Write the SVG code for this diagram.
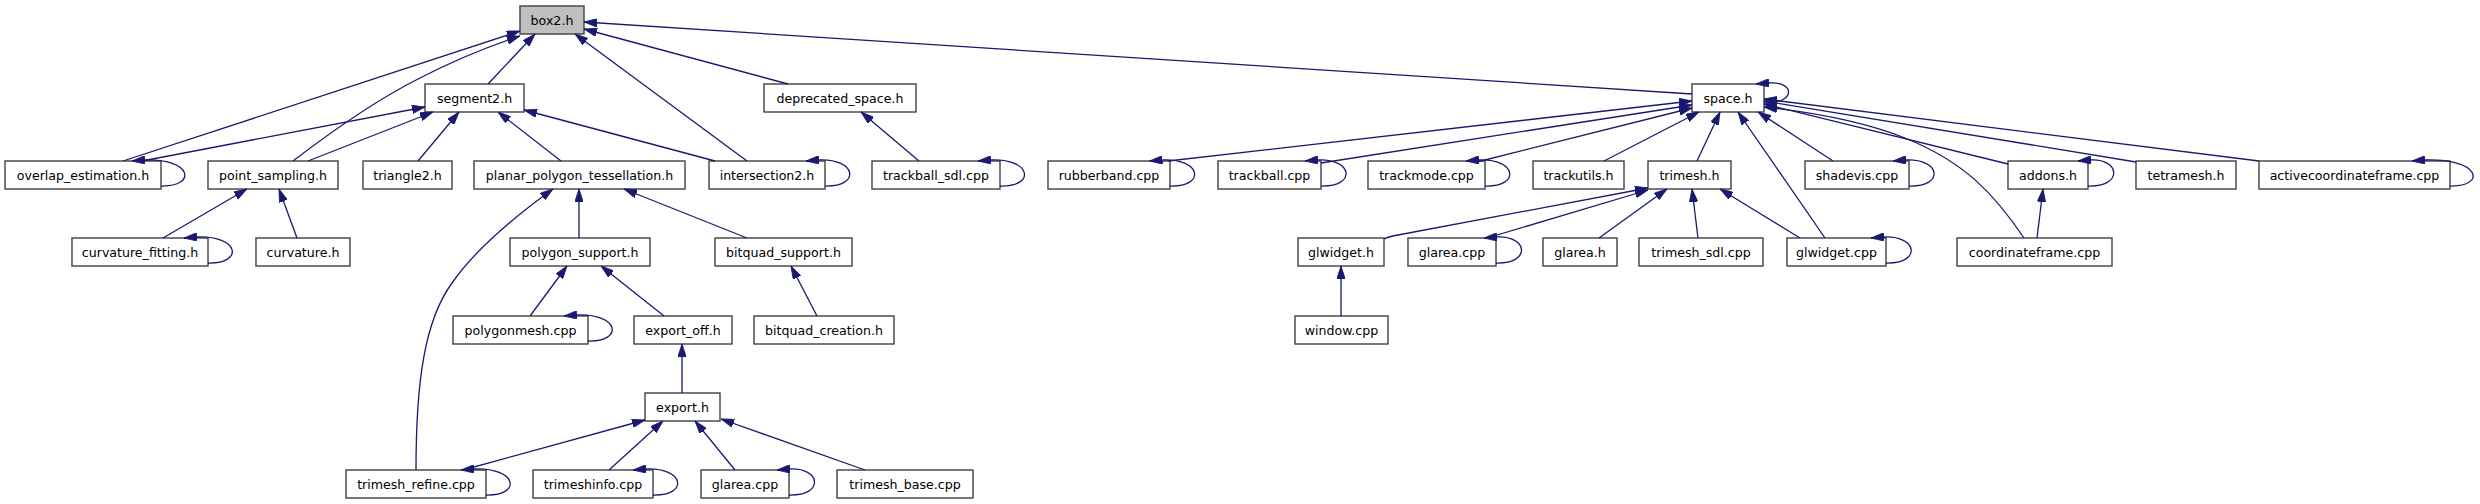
<svg xmlns="http://www.w3.org/2000/svg" width="2480" height="504" viewBox="0 0 2480 504">
<style>
.n rect{fill:#ffffff;stroke:#404040;stroke-width:1.4}
.n rect.hl{fill:#bfbfbf}
.n text{font-family:"DejaVu Sans",sans-serif;font-size:12.6px;text-anchor:middle;fill:#000000}
.e path{fill:none;stroke:#191970;stroke-width:1.3;marker-end:url(#ah)}
</style>
<defs>
<marker id="ah" viewBox="0 0 13 8.5" refX="13" refY="4.25" markerWidth="13" markerHeight="8.5" markerUnits="userSpaceOnUse" orient="auto">
<path d="M0,0 L13,4.25 L0,8.5 Z" fill="#191970" stroke="#191970" stroke-width="0.8"/>
</marker>
</defs>
<rect x="0" y="0" width="2480" height="504" fill="#ffffff"/>
<g id="nodes">
<g id="n_box2" class="n"><rect class="hl" x="520" y="6" width="64" height="28"/><text x="552" y="24.5">box2.h</text></g>
<g id="n_segment2" class="n"><rect x="425" y="84" width="99" height="28"/><text x="474.5" y="102.5">segment2.h</text></g>
<g id="n_deprecated_space" class="n"><rect x="764" y="84" width="152" height="28"/><text x="840" y="102.5">deprecated_space.h</text></g>
<g id="n_space" class="n"><rect x="1692" y="84" width="72" height="28"/><text x="1728" y="102.5">space.h</text></g>
<g id="n_overlap_estimation" class="n"><rect x="5" y="161" width="156" height="28"/><text x="83" y="179.5">overlap_estimation.h</text></g>
<g id="n_point_sampling" class="n"><rect x="208" y="161" width="130" height="28"/><text x="273" y="179.5">point_sampling.h</text></g>
<g id="n_triangle2" class="n"><rect x="363" y="161" width="89" height="28"/><text x="407.5" y="179.5">triangle2.h</text></g>
<g id="n_planar" class="n"><rect x="474" y="161" width="211" height="28"/><text x="579.5" y="179.5">planar_polygon_tessellation.h</text></g>
<g id="n_intersection2" class="n"><rect x="709" y="161" width="116" height="28"/><text x="767" y="179.5">intersection2.h</text></g>
<g id="n_trackball_sdl" class="n"><rect x="872" y="161" width="128" height="28"/><text x="936" y="179.5">trackball_sdl.cpp</text></g>
<g id="n_rubberband" class="n"><rect x="1048" y="161" width="122" height="28"/><text x="1109" y="179.5">rubberband.cpp</text></g>
<g id="n_trackball" class="n"><rect x="1218" y="161" width="103" height="28"/><text x="1269.5" y="179.5">trackball.cpp</text></g>
<g id="n_trackmode" class="n"><rect x="1368" y="161" width="117" height="28"/><text x="1426.5" y="179.5">trackmode.cpp</text></g>
<g id="n_trackutils" class="n"><rect x="1533" y="161" width="91" height="28"/><text x="1578.5" y="179.5">trackutils.h</text></g>
<g id="n_trimesh" class="n"><rect x="1648" y="161" width="83" height="28"/><text x="1689.5" y="179.5">trimesh.h</text></g>
<g id="n_shadevis" class="n"><rect x="1805" y="161" width="104" height="28"/><text x="1857" y="179.5">shadevis.cpp</text></g>
<g id="n_addons" class="n"><rect x="2008" y="161" width="80" height="28"/><text x="2048" y="179.5">addons.h</text></g>
<g id="n_tetramesh" class="n"><rect x="2136" y="161" width="100" height="28"/><text x="2186" y="179.5">tetramesh.h</text></g>
<g id="n_activecoordinateframe" class="n"><rect x="2259" y="161" width="191" height="28"/><text x="2354.5" y="179.5">activecoordinateframe.cpp</text></g>
<g id="n_curvature_fitting" class="n"><rect x="72" y="238" width="136" height="28"/><text x="140" y="256.5">curvature_fitting.h</text></g>
<g id="n_curvature" class="n"><rect x="256" y="238" width="94" height="28"/><text x="303" y="256.5">curvature.h</text></g>
<g id="n_polygon_support" class="n"><rect x="510" y="238" width="140" height="28"/><text x="580" y="256.5">polygon_support.h</text></g>
<g id="n_bitquad_support" class="n"><rect x="715" y="238" width="137" height="28"/><text x="783.5" y="256.5">bitquad_support.h</text></g>
<g id="n_glwidget_h" class="n"><rect x="1298" y="238" width="86" height="28"/><text x="1341" y="256.5">glwidget.h</text></g>
<g id="n_glarea_cpp_1" class="n"><rect x="1408" y="238" width="88" height="28"/><text x="1452" y="256.5">glarea.cpp</text></g>
<g id="n_glarea_h" class="n"><rect x="1543" y="238" width="74" height="28"/><text x="1580" y="256.5">glarea.h</text></g>
<g id="n_trimesh_sdl" class="n"><rect x="1639" y="238" width="124" height="28"/><text x="1701" y="256.5">trimesh_sdl.cpp</text></g>
<g id="n_glwidget_cpp" class="n"><rect x="1787" y="238" width="99" height="28"/><text x="1836.5" y="256.5">glwidget.cpp</text></g>
<g id="n_coordinateframe" class="n"><rect x="1957" y="238" width="155" height="28"/><text x="2034.5" y="256.5">coordinateframe.cpp</text></g>
<g id="n_polygonmesh" class="n"><rect x="453" y="316" width="135" height="28"/><text x="520.5" y="334.5">polygonmesh.cpp</text></g>
<g id="n_export_off" class="n"><rect x="634" y="316" width="98" height="28"/><text x="683" y="334.5">export_off.h</text></g>
<g id="n_bitquad_creation" class="n"><rect x="754" y="316" width="140" height="28"/><text x="824" y="334.5">bitquad_creation.h</text></g>
<g id="n_window" class="n"><rect x="1295" y="316" width="93" height="28"/><text x="1341.5" y="334.5">window.cpp</text></g>
<g id="n_export" class="n"><rect x="645" y="393" width="75" height="28"/><text x="682.5" y="411.5">export.h</text></g>
<g id="n_trimesh_refine" class="n"><rect x="346" y="470" width="140" height="28"/><text x="416" y="488.5">trimesh_refine.cpp</text></g>
<g id="n_trimeshinfo" class="n"><rect x="533" y="470" width="120" height="28"/><text x="593" y="488.5">trimeshinfo.cpp</text></g>
<g id="n_glarea_cpp_2" class="n"><rect x="701" y="470" width="88" height="28"/><text x="745" y="488.5">glarea.cpp</text></g>
<g id="n_trimesh_base" class="n"><rect x="837" y="470" width="136" height="28"/><text x="905" y="488.5">trimesh_base.cpp</text></g>
</g>
<g id="connectors" class="e">
<path d="M123,161 L520,31"/>
<path d="M293,161 C340,125 380,98 420,78 C455,60 490,46 520,36"/>
<path d="M488,84 L535,34"/>
<path d="M747,161 L575,34"/>
<path d="M788,84 L584,29"/>
<path d="M1692,94 L584,22"/>
<path d="M142,161 L425,107"/>
<path d="M308,161 L433,112"/>
<path d="M418,161 L459,112"/>
<path d="M561,161 L498,112"/>
<path d="M715,161 L524,110"/>
<path d="M163,238 L247,189"/>
<path d="M297,238 L279,189"/>
<path d="M579,238 L579,189"/>
<path d="M747,238 L624,189"/>
<path d="M416,470 C416,380 425,320 452,283 C475,250 510,220 553,189"/>
<path d="M530,316 L567,266"/>
<path d="M664,316 L601,266"/>
<path d="M817,316 L791,266"/>
<path d="M682,393 L682,344"/>
<path d="M463,470 L645,420"/>
<path d="M609,470 L663,421"/>
<path d="M735,470 L695,421"/>
<path d="M865,470 L721,419"/>
<path d="M919,161 L861,112"/>
<path d="M1168,161 L1692,101"/>
<path d="M1321,163 L1692,105"/>
<path d="M1477,162 L1692,108"/>
<path d="M1604,161 L1699,112"/>
<path d="M1697,161 L1720,112"/>
<path d="M1825,238 L1738,112"/>
<path d="M1833,161 L1758,112"/>
<path d="M2024,238 C1995,195 1965,162 1905,138 C1860,120 1810,112 1764,107"/>
<path d="M2008,164 L1764,104"/>
<path d="M2136,162 L1764,101"/>
<path d="M2259,161 L1764,99"/>
<path d="M2037,238 L2043,189"/>
<path d="M1384,239 C1388,237 1392,236 1398,235 L1648,188"/>
<path d="M1487,238 L1648,190"/>
<path d="M1599,238 L1667,189"/>
<path d="M1698,238 L1692,189"/>
<path d="M1800,238 L1720,189"/>
<path d="M1341,316 L1341,266"/>
<path d="M161,186 C197,187 193,158 144,160 L132,161"/>
<path d="M208,263 C244,264 240,235 196,237 L184,238"/>
<path d="M825,186 C861,187 857,158 818,160 L806,161"/>
<path d="M1000,186 C1036,187 1032,158 990,160 L978,161"/>
<path d="M1170,186 C1206,187 1202,158 1161.5,160 L1149.5,161"/>
<path d="M1321,186 C1357,187 1353,158 1317,160 L1305,161"/>
<path d="M1485,186 C1521,187 1517,158 1478,160 L1466,161"/>
<path d="M1909,186 C1945,187 1941,158 1905,160 L1893,161"/>
<path d="M2088,186 C2124,187 2120,158 2090,160 L2078,161"/>
<path d="M2450,186 C2486,187 2482,158 2424,160 L2412,161"/>
<path d="M1496,263 C1532,264 1528,235 1496,237 L1484,238"/>
<path d="M1886,263 C1922,264 1918,235 1883,237 L1871,238"/>
<path d="M588,341 C624,342 620,313 576,315 L564,316"/>
<path d="M486,495 C522,496 518,467 473,469 L461,470"/>
<path d="M653,495 C689,496 685,467 645,469 L633,470"/>
<path d="M789,495 C825,496 821,467 789,469 L777,470"/>
<path d="M1764,103 C1796,104 1796,81 1768,83 L1756,84"/>
</g>
</svg>
